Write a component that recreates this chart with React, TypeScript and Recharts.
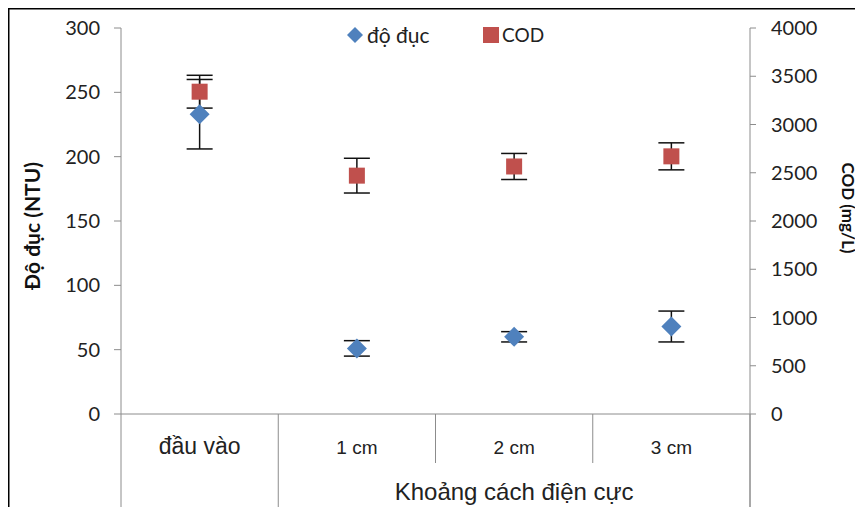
import {
  ComposedChart,
  Scatter,
  ErrorBar,
  XAxis,
  YAxis,
} from "recharts";

const categories = ["đầu vào", "1 cm", "2 cm", "3 cm"];
const turbidity = [233, 51, 60, 68];
const turbidityErr = [27, 6, 4, 12];
const cod = [3340, 2470, 2565, 2670];
const codErr = [170, 180, 135, 140];
const leftTicks = [0, 50, 100, 150, 200, 250, 300];
const rightTicks = [0, 500, 1000, 1500, 2000, 2500, 3000, 3500, 4000];

const data = categories.map((cat, i) => ({
  cat,
  duc: turbidity[i],
  ducErr: turbidityErr[i],
  cod: cod[i],
  codErr: codErr[i],
}));

const W = 863;
const H = 515;
const PLOT_LEFT = 121;
const PLOT_RIGHT = 750;
const PLOT_TOP = 28;
const PLOT_BOTTOM = 414;
const BAND = (PLOT_RIGHT - PLOT_LEFT) / categories.length;

const AXIS = "#8c8c8c";
const BLUE = "#4f81bd";
const RED = "#c0504d";
const CALIBRI = "Lato, 'Open Sans', sans-serif";
const ARIAL = "'Liberation Sans', Arial, sans-serif";

const Diamond = (props: any) => {
  const { cx, cy } = props;
  const r = 10;
  return (
    <path
      d={`M${cx},${cy - r}L${cx + r},${cy}L${cx},${cy + r}L${cx - r},${cy}Z`}
      fill={BLUE}
    />
  );
};

const Square = (props: any) => {
  const { cx, cy } = props;
  const s = 8;
  return <rect x={cx - s} y={cy - s} width={s * 2} height={s * 2} fill={RED} />;
};

const CategoryTick = (props: any) => {
  const { x, y, payload, index } = props;
  const left = x - BAND / 2;
  const right = x + BAND / 2;
  const long = 93;
  const short = 49;
  return (
    <g>
      <line x1={left} y1={y} x2={left} y2={y + (index <= 1 ? long : short)} stroke={AXIS} />
      {index === categories.length - 1 && (
        <line x1={right} y1={y} x2={right} y2={y + long} stroke={AXIS} />
      )}
      <text
        x={x}
        y={y + 40}
        textAnchor="middle"
        fontFamily={ARIAL}
        fontSize={index === 0 ? 23 : 19}
        fill="#222"
      >
        {payload.value}
      </text>
      {index === 2 && (
        <text
          x={x}
          y={y + 86}
          textAnchor="middle"
          fontFamily={ARIAL}
          fontSize={24}
          fill="#222"
        >
          Khoảng cách điện cực
        </text>
      )}
    </g>
  );
};

const LeftTitle = (props: any) => {
  const vb = props.viewBox;
  const cx = 31;
  const cy = vb.y + vb.height / 2 + 5;
  return (
    <text
      x={cx}
      y={cy}
      transform={`rotate(-90, ${cx}, ${cy})`}
      textAnchor="middle"
      dominantBaseline="central"
      fontFamily={CALIBRI}
      fontWeight="bold"
      fontSize={21}
      fill="#111"
    >
      Độ đục (NTU)
    </text>
  );
};

const RightTitle = (props: any) => {
  const vb = props.viewBox;
  const cx = 848;
  const cy = vb.y + vb.height / 2 - 13;
  return (
    <g>
      <line x1={PLOT_RIGHT} y1={PLOT_BOTTOM} x2={PLOT_RIGHT} y2={PLOT_BOTTOM + 93} stroke={AXIS} />
      <text
        x={cx}
        y={cy}
        transform={`rotate(90, ${cx}, ${cy})`}
        textAnchor="middle"
        dominantBaseline="central"
        fontFamily={CALIBRI}
        fontWeight="bold"
        fontSize={17}
        fill="#111"
      >
        COD (mg/L)
      </text>
    </g>
  );
};

export default function App() {
  return (
    <div style={{ position: "relative", width: W, height: H, margin: -8, background: "#fff" }}>
      <div style={{ position: "absolute", left: 0, top: 0 }}>
        <ComposedChart
          width={W}
          height={H}
          data={data}
          margin={{ top: PLOT_TOP, right: 0, bottom: 0, left: 0 }}
        >
          <XAxis
            dataKey="cat"
            type="category"
            scale="band"
            height={H - PLOT_BOTTOM}
            tickSize={0}
            tickMargin={0}
            tickLine={false}
            axisLine={{ stroke: AXIS }}
            tick={<CategoryTick />}
            interval={0}
          />
          <YAxis
            yAxisId="l"
            orientation="left"
            width={PLOT_LEFT}
            domain={[0, 300]}
            ticks={leftTicks}
            interval={0}
            tickSize={7}
            tickMargin={14}
            axisLine={{ stroke: AXIS }}
            tickLine={{ stroke: AXIS }}
            tick={{ fill: "#222", fontSize: 20, fontFamily: CALIBRI }}
            label={<LeftTitle />}
          />
          <YAxis
            yAxisId="r"
            orientation="right"
            width={W - PLOT_RIGHT}
            domain={[0, 4000]}
            ticks={rightTicks}
            interval={0}
            tickSize={6}
            tickMargin={15}
            axisLine={{ stroke: AXIS }}
            tickLine={{ stroke: AXIS }}
            tick={{ fill: "#222", fontSize: 20, fontFamily: CALIBRI, textAnchor: "start" }}
            label={<RightTitle />}
          />
          <Scatter
            yAxisId="l"
            dataKey="duc"
            name="độ đục"
            shape={<Diamond />}
            isAnimationActive={false}
          >
            <ErrorBar dataKey="ducErr" direction="y" width={13} stroke="#111" strokeWidth={1.5} />
          </Scatter>
          <Scatter
            yAxisId="r"
            dataKey="cod"
            name="COD"
            shape={<Square />}
            isAnimationActive={false}
          >
            <ErrorBar dataKey="codErr" direction="y" width={13} stroke="#111" strokeWidth={1.5} />
          </Scatter>
        </ComposedChart>
      </div>
      {/* legend */}
      <svg width={16} height={16} style={{ position: "absolute", left: 347, top: 27 }}>
        <path d="M8,0L16,8L8,16L0,8Z" fill={BLUE} />
      </svg>
      <span
        style={{
          position: "absolute",
          left: 367,
          top: 22,
          fontFamily: CALIBRI,
          fontSize: 21,
          lineHeight: "26px",
          color: "#222",
        }}
      >
        độ đục
      </span>
      <svg width={16} height={16} style={{ position: "absolute", left: 483, top: 27 }}>
        <rect x={0} y={0} width={16} height={16} fill={RED} />
      </svg>
      <span
        style={{
          position: "absolute",
          left: 502,
          top: 22,
          fontFamily: CALIBRI,
          fontSize: 19,
          lineHeight: "26px",
          color: "#222",
        }}
      >
        COD
      </span>
      {/* page frame around the figure */}
      <svg
        width={W}
        height={H}
        style={{ position: "absolute", left: 0, top: 0, zIndex: 5, pointerEvents: "none" }}
      >
        <path d={`M8,${H}V8H${W}`} fill="none" stroke="#000" strokeWidth={3} />
      </svg>
    </div>
  );
}
